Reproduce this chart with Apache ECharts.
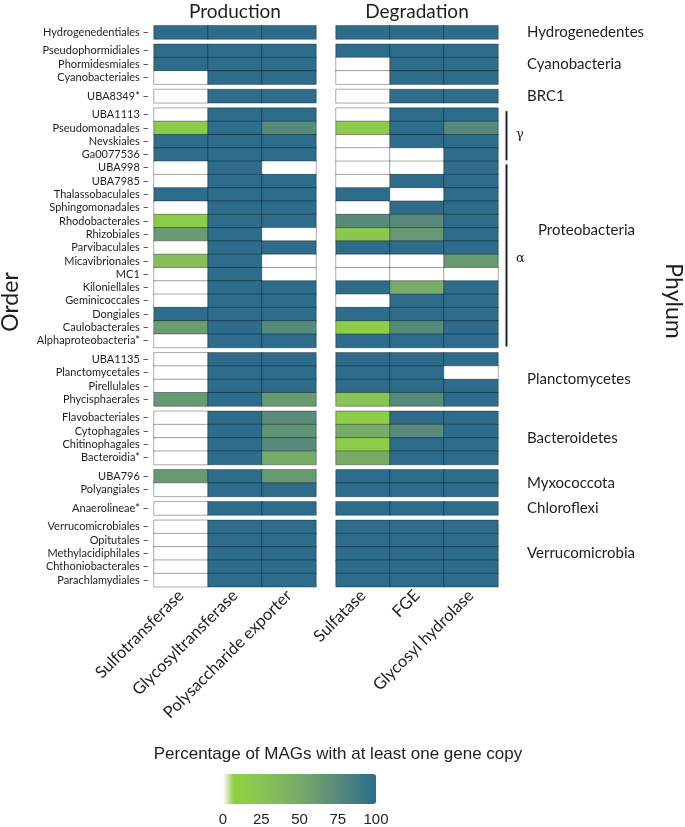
<!DOCTYPE html>
<html>
<head>
<meta charset="utf-8">
<script src="https://cdn.jsdelivr.net/npm/echarts@6/dist/echarts.min.js"></script>
<style>
html,body{margin:0;padding:0;background:#fff;}
#chart{width:685px;height:827px;}
</style>
</head>
<body>
<div id="chart"></div>
<script>
// ---------------- DATA ----------------
const orders = [
  'Hydrogenedentiales',
  'Pseudophormidiales','Phormidesmiales','Cyanobacteriales',
  'UBA8349*',
  'UBA1113','Pseudomonadales','Nevskiales','Ga0077536','UBA998','UBA7985','Thalassobaculales',
  'Sphingomonadales','Rhodobacterales','Rhizobiales','Parvibaculales','Micavibrionales','MC1',
  'Kiloniellales','Geminicoccales','Dongiales','Caulobacterales','Alphaproteobacteria*',
  'UBA1135','Planctomycetales','Pirellulales','Phycisphaerales',
  'Flavobacteriales','Cytophagales','Chitinophagales','Bacteroidia*',
  'UBA796','Polyangiales',
  'Anaerolineae*',
  'Verrucomicrobiales','Opitutales','Methylacidiphilales','Chthoniobacterales','Parachlamydiales'
];
const phyla = ['Hydrogenedentes','Cyanobacteria','BRC1','Proteobacteria','Planctomycetes',
  'Bacteroidetes','Myxococcota','Chloroflexi','Verrucomicrobia'];
const phylumSizes = [1,3,1,18,4,4,2,1,5];
const classMarks = [['γ',0,4],['α',4,14]]; // label, first row in Proteobacteria, row count

const productionGenes = ['Sulfotransferase','Glycosyltransferase','Polysaccharide exporter'];
const degradationGenes = ['Sulfatase','FGE','Glycosyl hydrolase'];

// percentage of MAGs with at least one gene copy (rows follow `orders`)
const sulfotransferase = [100, 100,100,0, 0,
  0,15,100,100,0,0,100,0,15,62,0,30,0,0,0,100,60,0,
  0,0,0,63, 0,0,0,0, 63,0, 0, 0,0,0,0,0];
const glycosyltransferase = [100, 100,100,100, 100,
  100,100,100,100,100,100,100,100,100,100,100,100,100,100,100,100,100,100,
  100,100,100,100, 100,100,100,100, 100,100, 100, 100,100,100,100,100];
const polysaccharideExporter = [100, 100,100,100, 100,
  100,75,100,100,0,100,100,100,100,0,100,0,0,100,100,100,75,100,
  100,100,100,62, 74,68,75,50, 63,100, 100, 100,100,100,100,100];
const sulfatase = [100, 100,0,0, 0,
  0,15,0,0,0,0,100,0,75,20,100,0,0,100,0,100,12,100,
  100,100,100,25, 12,50,15,50, 100,100, 100, 100,100,100,100,100];
const fge = [100, 100,100,100, 100,
  100,100,100,0,0,100,0,100,75,64,100,0,0,50,100,100,75,100,
  100,100,100,75, 100,75,100,100, 100,100, 100, 100,100,100,100,100];
const glycosylHydrolase = [100, 100,100,100, 100,
  100,75,100,100,100,100,100,100,100,100,100,63,0,100,100,100,100,100,
  100,0,100,100, 100,100,100,100, 100,100, 100, 100,100,100,100,100];

const legendTicks = [0,25,50,75,100];

// ---------------- STYLE / LAYOUT ----------------
const ROW_H = 13.3, GAP = 5.3, TOP = 25.7;
const PANEL_W = 162;
const panels = [
  {title:'Production', left:154, genes:productionGenes, cols:[sulfotransferase,glycosyltransferase,polysaccharideExporter]},
  {title:'Degradation', left:336, genes:degradationGenes, cols:[sulfatase,fge,glycosylHydrolase]}
];
const FONT = 'Lato, "Open Sans", sans-serif';
const TXT = '#1e1e1e';

const colorCtrl = [[0,'#ffffff'],[7,'#8fd040'],[25,'#8ac456'],[50,'#78aa68'],[75,'#588a7c'],[100,'#2d6c8b']];
function hex2rgb(h){return [1,3,5].map(i=>parseInt(h.substr(i,2),16));}
const scaleColors = [];
for (let v=0; v<=100; v++){
  let k=0; while (k<colorCtrl.length-2 && v>colorCtrl[k+1][0]) k++;
  const [v0,c0]=colorCtrl[k], [v1,c1]=colorCtrl[k+1];
  const t=(v-v0)/(v1-v0), a=hex2rgb(c0), b=hex2rgb(c1);
  scaleColors.push('rgb('+a.map((x,i)=>Math.round(x+(b[i]-x)*t)).join(',')+')');
}

// group tops
const groupTops = [];
let yy = TOP;
phylumSizes.forEach(n => { groupTops.push(yy); yy += n*ROW_H + GAP; });

const grid=[], xAxis=[], yAxis=[], series=[], graphic=[];
let rowStart = 0;
phylumSizes.forEach((n, g) => {
  const names = orders.slice(rowStart, rowStart+n);
  panels.forEach((p, pi) => {
    const gi = grid.length;
    grid.push({left:p.left, top:groupTops[g], width:PANEL_W, height:n*ROW_H});
    const last = g === phylumSizes.length-1;
    xAxis.push({type:'category', gridIndex:gi, data:p.genes, position:'bottom',
      axisLine:{show:false}, axisTick:{show:false}, splitLine:{show:false},
      axisLabel:{show:last, rotate:45, interval:0, margin:6, fontSize:16.5, fontFamily:FONT, color:TXT}});
    yAxis.push({type:'category', gridIndex:gi, data:names, inverse:true,
      axisLine:{show:false}, axisTick:{show:false}, splitLine:{show:false},
      axisLabel:{show:pi===0, interval:0, margin:5, fontSize:11, fontFamily:FONT, color:TXT,
        formatter:v=>v+' –'}});
    const data=[];
    for (let r=0;r<n;r++) for (let c=0;c<3;c++) data.push([c, r, p.cols[c][rowStart+r]]);
    series.push({type:'heatmap', xAxisIndex:gi, yAxisIndex:gi, data:data,
      itemStyle:{borderColor:'rgba(0,0,0,0.33)', borderWidth:1},
      emphasis:{disabled:true}, label:{show:false}});
  });
  // phylum label
  const center = groupTops[g] + n*ROW_H/2;
  graphic.push({type:'text', x: phyla[g]==='Proteobacteria'?538:527, y:center + (phyla[g]==='Proteobacteria'?2:0),
    style:{text:phyla[g], fontSize:15, fontFamily:FONT, fill:TXT, textAlign:'left', textVerticalAlign:'middle'}});
  if (phyla[g]==='Proteobacteria'){
    classMarks.forEach(([lab, r0, cnt]) => {
      const y0 = groupTops[g] + r0*ROW_H, y1 = y0 + cnt*ROW_H;
      graphic.push({type:'line', shape:{x1:506.5, y1:y0+3, x2:506.5, y2:y1-1}, style:{stroke:'#222', lineWidth:2}});
      graphic.push({type:'text', x:516, y:(y0+y1)/2 + (lab==='α'?4:0),
        style:{text:lab, fontSize:13, fontFamily:'"DejaVu Serif", serif', fill:TXT, textAlign:'left', textVerticalAlign:'middle'}});
    });
  }
  rowStart += n;
});

// panel titles
panels.forEach(p => graphic.push({type:'text', x:p.left+PANEL_W/2, y:12,
  style:{text:p.title, fontSize:19, fontFamily:FONT, fill:TXT, textAlign:'center', textVerticalAlign:'middle'}}));
// axis titles
graphic.push({type:'text', x:11, y:302, rotation:Math.PI/2,
  style:{text:'Order', fontSize:23, fontFamily:FONT, fill:TXT, textAlign:'center', textVerticalAlign:'middle'}});
graphic.push({type:'text', x:673, y:301, rotation:-Math.PI/2,
  style:{text:'Phylum', fontSize:23, fontFamily:FONT, fill:TXT, textAlign:'center', textVerticalAlign:'middle'}});
// legend title
graphic.push({type:'text', x:338, y:754,
  style:{text:'Percentage of MAGs with at least one gene copy', fontSize:17, fontFamily:'"Liberation Sans", Arial, sans-serif', fill:TXT, textAlign:'center', textVerticalAlign:'middle'}});

// legend tick axis
const lg = grid.length;
grid.push({left:223, top:774, width:153, height:30});
xAxis.push({type:'value', gridIndex:lg, min:legendTicks[0], max:legendTicks[legendTicks.length-1],
  interval:legendTicks[1]-legendTicks[0],
  axisLine:{show:false}, axisTick:{show:false}, splitLine:{show:false},
  axisLabel:{margin:9, fontSize:15, fontFamily:'"Liberation Sans", Arial, sans-serif', color:TXT}});
yAxis.push({type:'value', gridIndex:lg, show:false});

const chart = echarts.init(document.getElementById('chart'), null, {renderer:'canvas'});
chart.setOption({
  animation:false,
  backgroundColor:'#fff',
  grid, xAxis, yAxis, series, graphic,
  visualMap:{type:'continuous', min:0, max:100, orient:'horizontal', left:223, top:774,
    itemWidth:30, itemHeight:153, padding:0, calculable:false, hoverLink:false,
    seriesIndex: series.map((s,i)=>i), inRange:{color:scaleColors}, text:null, showLabel:false}
});
</script>
</body>
</html>
